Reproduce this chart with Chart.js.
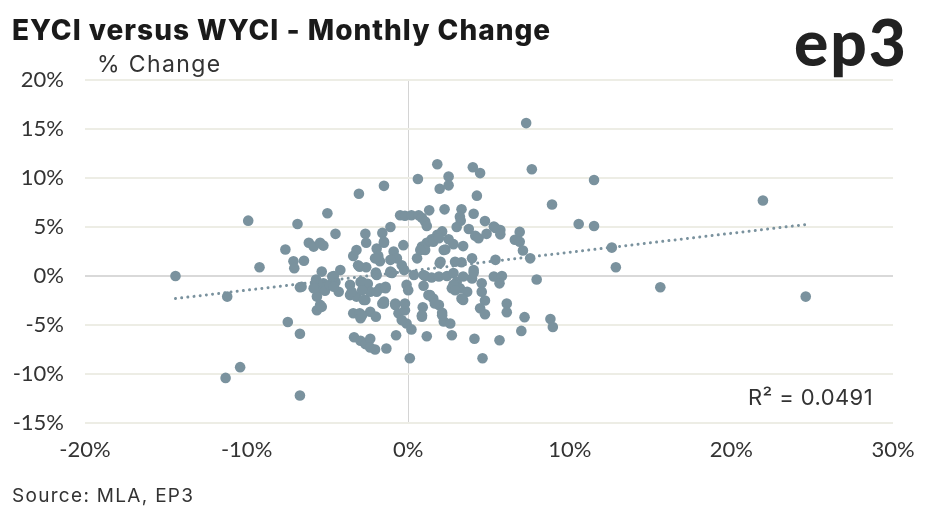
<!DOCTYPE html>
<html><head><meta charset="utf-8">
<script src="https://cdn.jsdelivr.net/npm/chart.js@4.4.1/dist/chart.umd.min.js"></script>
<style>
html,body{margin:0;padding:0;background:#fff;}
#wrap{position:relative;width:933px;height:514px;overflow:hidden;}
canvas{position:absolute;left:0;top:0;}
.t{position:absolute;white-space:nowrap;color:#222;line-height:1;}
</style></head><body>
<div id="wrap">
<canvas id="c" width="933" height="514"></canvas>
<div class="t" id="title" style="left:12px;top:13px;font:800 28px Inter;color:#1a1a1a;letter-spacing:1px;">EYCI versus WYCI - Monthly Change</div>
<div class="t" id="sub" style="left:97px;top:50px;font:400 23px Inter;color:#333;letter-spacing:1.4px;">% Change</div>
<div class="t" id="logo" style="left:794px;top:3px;font:900 64px Lato;color:#222;letter-spacing:2px;">ep3</div>
<div class="t" id="r2" style="left:748px;top:384px;font:400 22px Inter;color:#333;letter-spacing:0.4px;">R² = 0.0491</div>
<div class="t" id="src" style="left:12px;top:484px;font:400 19px Inter;color:#333;letter-spacing:1.3px;">Source: MLA, EP3</div>
</div>
<script>
// Monthly % change: x = EYCI, y = WYCI
const eyciChange = [
 -14.4,-11.2,-9.9,-9.2,-7.6,-7.1,-7.05,-6.85,-6.7,-7.45,
 -6.7,-11.3,-10.4,-6.7,-6.45,-6.15,-5.85,-5.45,-5.25,-5.0,
 -4.5,-5.35,-4.2,-4.6,-5.7,-5.75,-5.65,-5.65,-5.25,-5.15,
 -4.85,-4.5,-4.3,-3.6,-3.6,-3.2,-2.85,-2.5,-2.65,-2.35,
 -2.0,-1.75,-1.4,-1.5,-1.0,-0.8,-0.6,-0.2,-0.1,-5.45,
 -5.65,-3.4,-3.0,-2.95,-2.35,-2.0,-3.35,-2.95,-2.65,-2.35,
 -2.05,-2.35,-1.35,-0.75,0.1,-1.5,-3.05,-2.65,-1.6,-1.1,
 -3.4,-3.2,-2.6,-1.95,-1.85,-1.75,-1.5,-0.9,-0.7,-0.4,
 -3.0,-2.6,-2.0,-1.1,-0.25,-6.6,-5.85,-5.35,-4.7,-4.6,
 -3.5,-3.1,-2.95,-2.85,-1.95,-1.95,-2.75,-2.85,-1.6,-2.05,
 -1.5,-1.1,-1.1,-1.4,-0.1,0.0,-0.8,-0.2,-1.5,-0.3,
 1.8,4.0,4.45,0.6,2.5,2.5,1.95,4.25,1.3,2.25,
 3.3,-0.5,-0.2,0.2,0.65,0.85,1.05,1.15,3.2,3.25,
 4.05,4.75,3.0,3.75,5.3,5.7,2.1,1.8,1.45,1.15,
 2.5,4.15,4.35,4.85,6.6,0.85,1.05,2.3,2.8,3.4,
 0.55,1.95,3.3,3.95,5.4,4.05,0.75,1.55,1.9,2.2,
 2.0,2.9,5.4,5.7,0.35,1.05,1.45,1.9,2.4,2.8,
 3.0,2.7,3.2,3.65,3.4,3.95,4.05,5.3,5.8,5.65,
 4.55,4.55,4.75,4.45,4.75,6.1,6.1,0.95,1.25,1.55,
 1.9,2.1,0.9,0.85,2.2,2.6,-0.4,0.2,1.15,2.7,
 4.1,5.65,4.6,0.95,3.4,2.8,2.9,3.3,1.35,1.65,
 2.1,0.85,7.3,7.65,11.5,8.9,10.55,11.5,6.9,6.9,
 7.1,7.55,12.6,12.85,7.95,7.2,8.8,8.95,7.0,21.95,
 15.6,24.6
];
const wyciChange = [
 0.0,-2.1,5.65,0.9,2.7,1.5,0.8,5.3,-1.15,-4.7,
 -5.9,-10.4,-9.3,-12.2,1.55,3.4,3.0,3.4,3.1,6.4,
 4.3,0.45,0.6,0.0,-0.35,-0.75,-1.45,-2.1,-0.75,-1.5,
 -0.9,-0.6,-1.6,-0.9,-1.95,-2.1,-0.6,-0.8,-2.45,-1.6,
 0.2,-1.25,-1.1,-2.8,0.3,-2.8,-3.8,-3.5,-4.85,-2.95,
 -3.5,-3.8,-3.8,-4.3,-3.65,-4.15,-6.25,-6.6,-6.95,-6.4,
 -7.5,-7.3,-7.4,-6.05,-8.4,9.2,8.4,4.3,4.4,5.0,
 2.05,2.65,3.4,2.8,2.05,1.5,3.4,2.5,1.8,1.1,
 0.95,0.9,0.35,0.35,0.6,-1.1,-1.25,-3.15,-0.05,-1.1,
 -1.6,1.1,-0.6,-1.45,0.1,-1.6,-2.45,-4.0,-2.8,1.8,
 3.5,1.65,0.45,-1.25,-0.9,-1.45,-2.95,-2.8,-2.6,3.15,
 11.4,11.1,10.5,9.9,10.15,9.25,8.9,8.2,6.7,6.8,
 6.8,6.2,6.15,6.2,6.2,5.95,5.55,5.1,6.05,5.65,
 6.35,5.6,5.0,4.8,5.05,4.7,4.55,4.2,3.75,3.4,
 3.75,4.1,3.85,4.3,3.7,3.0,2.65,2.7,3.25,3.05,
 1.8,1.3,1.4,1.8,1.65,0.6,2.65,3.5,3.85,2.65,
 1.45,1.45,4.9,4.25,0.1,0.0,-0.15,-0.05,0.0,0.3,
 -0.6,-1.25,-1.25,-1.6,-2.45,-0.25,0.35,-0.05,0.0,-0.75,
 -0.75,-1.6,-2.5,-3.3,-3.9,-2.8,-3.7,-1.0,-1.95,-2.3,
 -2.95,-3.75,-3.2,-4.15,-4.65,-4.85,-4.5,-5.45,-6.15,-6.05,
 -6.4,-6.55,-8.4,0.1,-0.05,-0.9,-1.45,-2.3,-1.95,-2.8,
 -4.0,-4.0,15.6,10.9,9.8,7.3,5.3,5.1,4.5,3.5,
 2.6,1.8,2.9,0.9,-0.35,-4.2,-4.4,-5.2,-5.6,7.7,
 -1.15,-2.1
];
// Linear trend line end points
const trendX = [-14.4, 24.6];
const trendY = [-2.3, 5.25];
const xTicks = [-20, -10, 0, 10, 20, 30];
const yTicks = [-15, -10, -5, 0, 5, 10, 15, 20];

const dotColor = 'rgb(122,146,158)';
const points = eyciChange.map((x, i) => ({x: x, y: wyciChange[i]}));
const trend = trendX.map((x, i) => ({x: x, y: trendY[i]}));

new Chart(document.getElementById('c'), {
  type: 'scatter',
  data: {
    datasets: [
      {type: 'line', data: trend, borderColor: dotColor, borderWidth: 3,
       borderDash: [0.01, 6.2], borderCapStyle: 'round', pointRadius: 0, fill: false, order: 0},
      {data: points, backgroundColor: dotColor, borderColor: dotColor, borderWidth: 0,
       pointRadius: 5.3, pointHoverRadius: 5.3, order: 1}
    ]
  },
  options: {
    responsive: false, animation: false, devicePixelRatio: 1,
    layout: {padding: {top: 80, right: 40, left: 0, bottom: 0}},
    plugins: {legend: {display: false}, tooltip: {enabled: false}},
    scales: {
      x: {
        type: 'linear', min: xTicks[0], max: xTicks[xTicks.length - 1],
        afterBuildTicks: s => { s.ticks = xTicks.map(v => ({value: v})); },
        afterFit: s => { s.height = 91; },
        ticks: {callback: v => v + '%', color: '#333', font: {family: 'Lato', size: 22}, padding: 14, maxRotation: 0},
        grid: {color: c => (c.tick && c.tick.value === 0) ? '#d4d4d4' : 'rgba(0,0,0,0)', lineWidth: 1, drawTicks: false},
        border: {display: false}
      },
      y: {
        type: 'linear', min: yTicks[0], max: yTicks[yTicks.length - 1],
        afterBuildTicks: s => { s.ticks = yTicks.map(v => ({value: v})); },
        afterFit: s => { s.width = 85; },
        ticks: {callback: v => v + '%', color: '#333', font: {family: 'Lato', size: 22}, padding: 21},
        grid: {color: c => (c.tick && c.tick.value === 0) ? '#d9d9d9' : '#ededE5', lineWidth: 2, drawTicks: false},
        border: {display: false}
      }
    }
  }
});
</script>
</body></html>
